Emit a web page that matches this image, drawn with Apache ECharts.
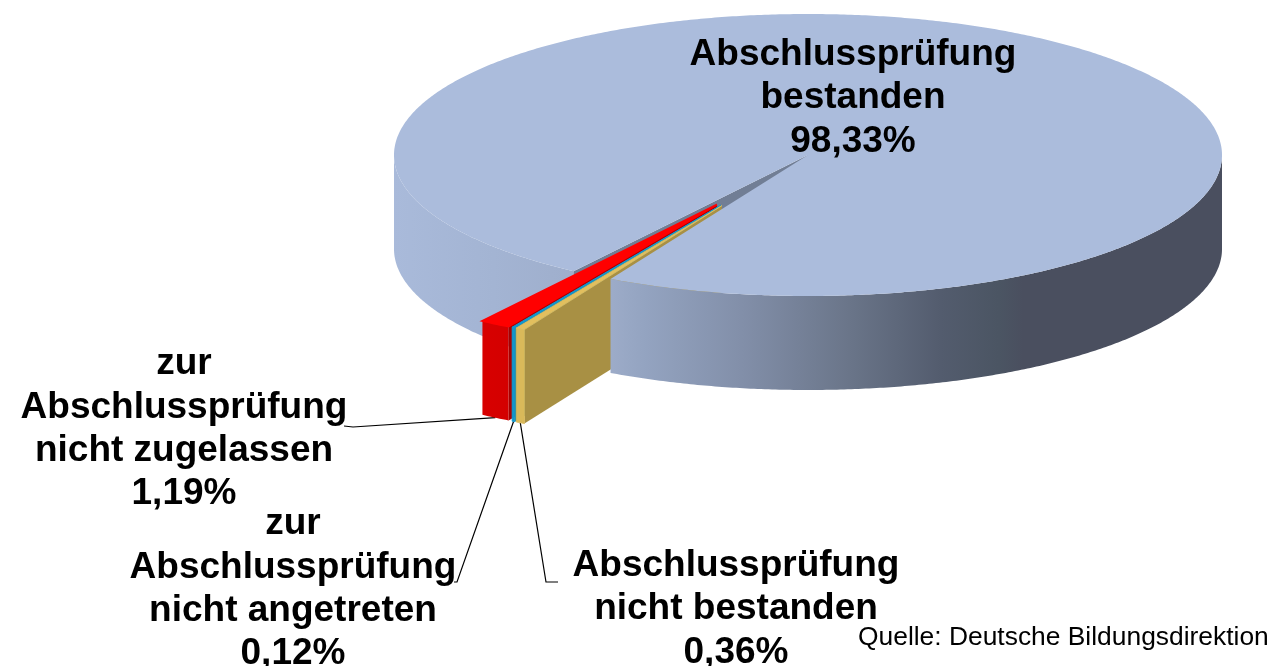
<!DOCTYPE html>
<html>
<head>
<meta charset="utf-8">
<style>html,body{margin:0;padding:0;background:#fff}#c{width:1272px;height:666px}</style>
<script src="https://cdn.jsdelivr.net/npm/echarts@6/dist/echarts.min.js"></script>
</head>
<body>
<div id="c"></div>
<script>
var categories = [
  'Abschlussprüfung\nbestanden',
  'Abschlussprüfung\nnicht bestanden',
  'zur\nAbschlussprüfung\nnicht angetreten',
  'zur\nAbschlussprüfung\nnicht zugelassen'
];
var values = [98.33, 0.36, 0.12, 1.19];
var sourceNote = 'Quelle: Deutsche Bildungsdirektion';

var chart = echarts.init(document.getElementById('c'), null, {renderer: 'canvas'});

/* layout of the tilted disc */
var CX = 808, CY = 155, RX = 414, RY = 141, DEPTH = 94;
var START = 124.5;                 /* screen angle (deg, clockwise from east) where the first slice begins */
var EXPLODE = 0.415;               /* pull-out of a slice, as a share of the radius */
var SPREAD = 0.6;                  /* how far a pulled slice follows its own middle angle rather than the group's */
var FONT = 'bold 37px "Liberation Sans", Arial, sans-serif';

var total = values.reduce(function (a, b) { return a + b; }, 0);
var angles = [];
values.reduce(function (acc, v) {
  var sweep = v / total * 360;
  angles.push([acc, acc + sweep]);
  return acc + sweep;
}, START);
var groupMid = (angles[1][0] + angles[3][1]) / 2;

function rim(ox, oy, deg, drop) {
  var r = deg * Math.PI / 180;
  return [ox + RX * Math.cos(r), oy + RY * Math.sin(r) + (drop || 0)];
}
function arc(ox, oy, a, b, drop) {
  var n = Math.max(2, Math.ceil(Math.abs(b - a) * 2)), out = [];
  for (var i = 0; i <= n; i++) out.push(rim(ox, oy, a + (b - a) * i / n, drop));
  return out;
}
function poly(points, fill, z2, edge) {
  return {type: 'polygon', shape: {points: points},
    style: {fill: fill, stroke: edge ? fill : null, lineWidth: edge || 0}, z2: z2, silent: true};
}
function wall(ox, oy, a, b, fill, z2, edge) {
  return poly(arc(ox, oy, a, b, 0).concat(arc(ox, oy, b, a, DEPTH)), fill, z2, edge);
}
function hGrad(x1, x2, stops) {
  return {type: 'linear', x: x1, y: 0, x2: x2, y2: 0, global: true,
    colorStops: stops.map(function (s) { return {offset: s[0], color: s[1]}; })};
}
function leader(points) {
  return {type: 'polyline', shape: {points: points}, style: {stroke: '#000', lineWidth: 1.2, fill: null}, z2: 3, silent: true};
}
function label(text, x, y) {
  return {type: 'text', z2: 10, silent: true,
    style: {text: text, x: x, y: y, font: FONT, fill: '#000', align: 'center', verticalAlign: 'middle', lineHeight: 43.4}};
}
function pct(v) { return v.toFixed(2).replace('.', ',') + '%'; }

var wallFill = hGrad(394, 1222, [
  [0, '#a9bada'], [0.12, '#a3b4d3'], [0.26, '#9dacc9'], [0.3, '#94a4c1'],
  [0.42, '#828fa9'], [0.55, '#6a7589'], [0.66, '#535c6e'], [0.73, '#4b5563'], [0.76, '#4a4f5f'], [1, '#4a4f5f']
]);

var styles = [
  null,
  {top: '#e2bf5e', front: '#d9b95a', side: '#a89044', edge: 0.8, z: 0.4, lead: [[546, 582], [558, 582]], at: [736, 609]},
  {top: '#0f9ad2', front: '#1197cc', side: '#0c7fab', edge: 1, z: 0.2, lead: [[457, 582], [454, 582]], at: [293, 589]},
  {top: '#ff0000', front: hGrad(482, 512, [[0, '#d80000'], [0.85, '#d40000'], [1, '#a80000']]), side: '#a80000', edge: 2, z: 0,
    lead: [[353, 427], [344, 426]], at: [184, 429]}
];

function renderSlice(params, api) {
  var i = params.dataIndex, a = angles[i][0], b = angles[i][1], kids;
  var text = categories[i] + '\n' + pct(values[i]);
  if (i === 0) {
    kids = [
      wall(CX, CY, a, 180, wallFill, 1),
      wall(CX, CY, 360, b, wallFill, 5),
      poly([[CX, CY], rim(CX, CY, a), rim(CX, CY, a, DEPTH), [CX, CY + DEPTH]], '#717e95', 2),
      poly([[CX, CY]].concat(arc(CX, CY, a, b, 0)), '#abbcdc', 6),
      label(text, 853, 98)
    ];
  } else {
    var s = styles[i], mid = (a + b) / 2;
    var r = (groupMid + SPREAD * (mid - groupMid)) * Math.PI / 180;
    var ox = CX + RX * EXPLODE * Math.cos(r), oy = CY + RY * EXPLODE * Math.sin(r);
    var topFill = s.top, frontEdge = s.edge;
    kids = [
      poly([[ox, oy], rim(ox, oy, a), rim(ox, oy, a, DEPTH), [ox, oy + DEPTH]], s.side, 3 + s.z),
      wall(ox, oy, a, b, s.front, 4 + s.z, typeof s.front === 'string' ? frontEdge : 0),
      poly([[ox, oy]].concat(arc(ox, oy, a, b, 0)), topFill, 7 + s.z, s.edge),
      leader([rim(ox, oy, mid, DEPTH)].concat(s.lead)),
      label(text, s.at[0], s.at[1])
    ];
  }
  return {type: 'group', children: kids};
}

chart.setOption({
  animation: false,
  backgroundColor: '#fff',
  title: {
    text: sourceNote, left: 858, top: 625,
    textStyle: {fontFamily: '"Liberation Sans", Arial, sans-serif', fontSize: 26.4, fontWeight: 'normal', color: '#000'},
    padding: 0
  },
  series: [{
    type: 'custom',
    coordinateSystem: 'none',
    silent: true,
    clip: false,
    data: values,
    renderItem: renderSlice
  }]
});
</script>
</body>
</html>
